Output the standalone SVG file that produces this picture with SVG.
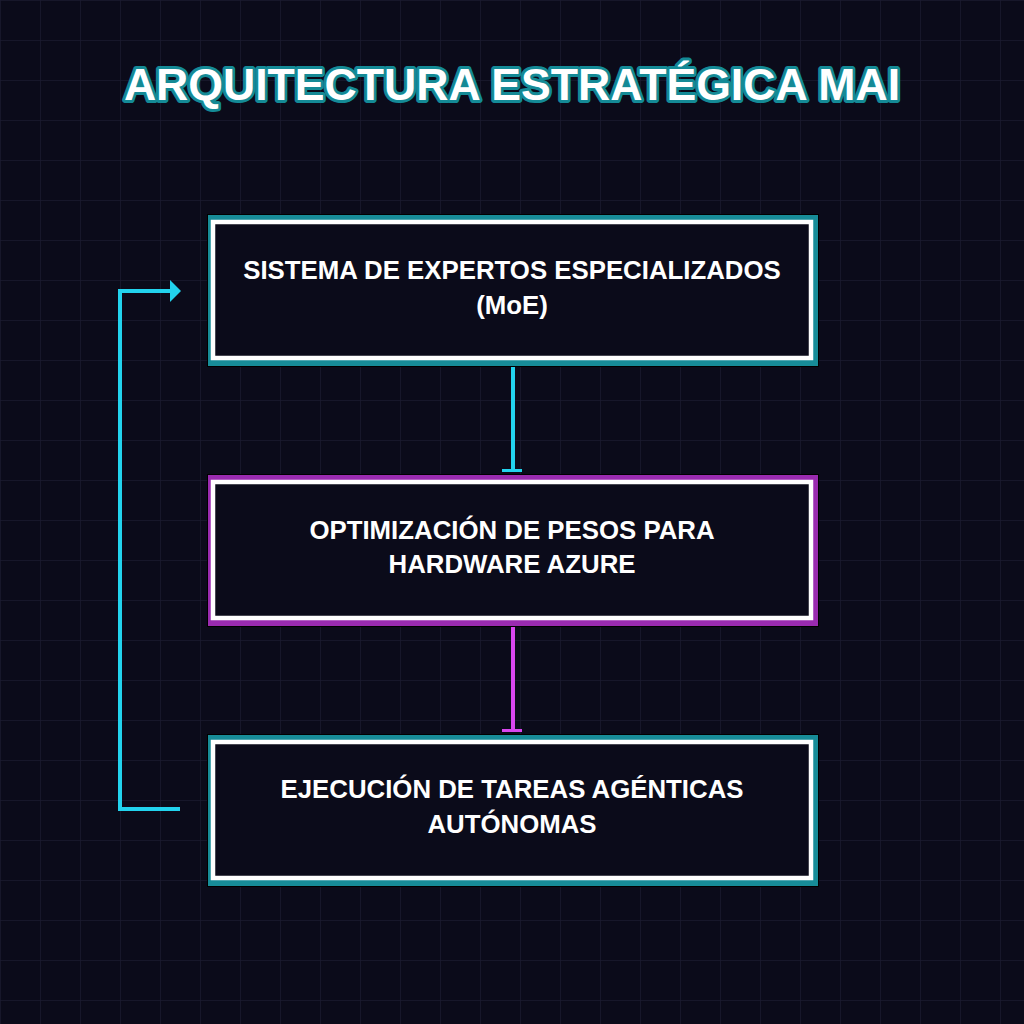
<svg xmlns="http://www.w3.org/2000/svg" width="1024" height="1024" viewBox="0 0 1024 1024">
<defs>
<pattern id="grid" width="40" height="40" patternUnits="userSpaceOnUse">
<path d="M40 0 H0 V40" fill="none" stroke="#1a1a30" stroke-width="1.5"/>
</pattern>
</defs>
<style>
.bg{fill:#0b0b1a}
.shadow{fill:#000000}
.teal{fill:none;stroke:#178c98;stroke-width:7}
.purple{fill:none;stroke:#9a2bb0;stroke-width:7}
.inner{fill:#0b0b1a;stroke:#ffffff;stroke-width:4.5}
.lbl{font-family:"Liberation Sans",Arial,sans-serif;font-weight:bold;font-size:25.8px;fill:#ffffff;text-anchor:middle}
.title{font-family:"Liberation Sans",Arial,sans-serif;font-weight:bold;font-size:44.6px;fill:#ffffff;text-anchor:middle;stroke:#148a96;stroke-width:6;paint-order:stroke;stroke-linejoin:round}
.conn{fill:none;stroke-width:4}
</style>
<rect class="bg" x="0" y="0" width="1024" height="1024"/>
<rect x="0" y="0" width="1024" height="1024" fill="url(#grid)"/>

<text class="title" x="512" y="100">ARQUITECTURA ESTRATÉGICA MAI</text>

<g id="connectors">
<line class="conn" x1="513" y1="360" x2="513" y2="470" stroke="#22d3ee"/>
<rect x="502" y="469" width="20" height="3" fill="#22d3ee"/>
<line class="conn" x1="513" y1="620" x2="513" y2="730" stroke="#d946ef"/>
<rect x="502" y="729" width="20" height="3" fill="#d946ef"/>
<path class="conn" d="M180 809 H120 V291 H171" stroke="#22d3ee"/>
<path d="M170 280 L181 291 L170 302 Z" fill="#22d3ee"/>
</g>

<g id="node1">
<rect class="shadow" x="207" y="214" width="612" height="153"/>
<rect class="teal" x="211.5" y="218.5" width="603" height="144"/>
<rect class="inner" x="213" y="222" width="598" height="136"/>
<text class="lbl" x="512" y="279">SISTEMA DE EXPERTOS ESPECIALIZADOS</text>
<text class="lbl" x="512" y="314">(MoE)</text>
</g>

<g id="node2">
<rect class="shadow" x="207" y="474" width="612" height="153"/>
<rect class="purple" x="211.5" y="478.5" width="603" height="144"/>
<rect class="inner" x="213" y="482" width="598" height="136"/>
<text class="lbl" x="512" y="539">OPTIMIZACIÓN DE PESOS PARA</text>
<text class="lbl" x="512" y="573">HARDWARE AZURE</text>
</g>

<g id="node3">
<rect class="shadow" x="207" y="734" width="612" height="153"/>
<rect class="teal" x="211.5" y="738.5" width="603" height="144"/>
<rect class="inner" x="213" y="742" width="598" height="136"/>
<text class="lbl" x="512" y="798">EJECUCIÓN DE TAREAS AGÉNTICAS</text>
<text class="lbl" x="512" y="833">AUTÓNOMAS</text>
</g>
</svg>
